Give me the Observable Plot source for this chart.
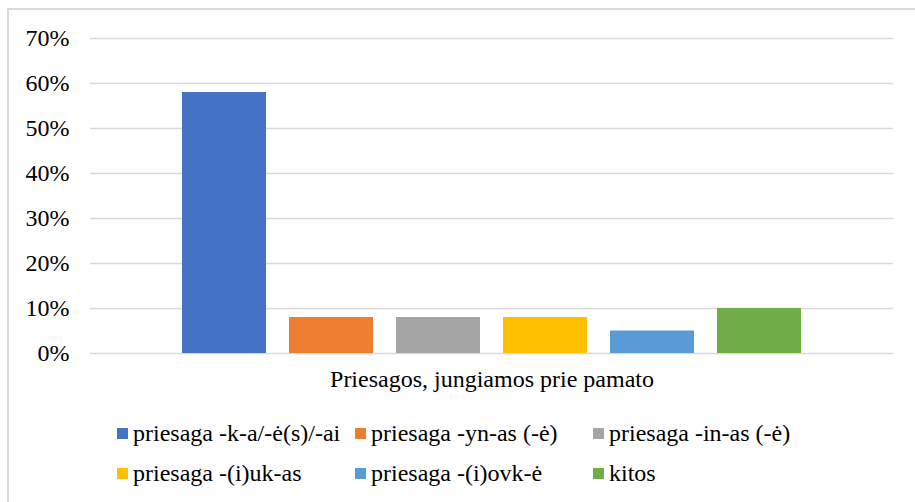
<!DOCTYPE html>
<html>
<head>
<meta charset="utf-8">
<script src="https://cdn.jsdelivr.net/npm/d3@7"></script>
<script src="https://cdn.jsdelivr.net/npm/@observablehq/plot@0.6"></script>
<style>
  html, body { margin: 0; padding: 0; background: #fff; overflow: hidden; }
  body { width: 915px; height: 502px; position: relative; font-family: 'Liberation Serif' !important; }
  #frame { position: absolute; left: 7px; top: 8px; width: 960px; height: 560px; border-left: 2px solid #d9d9d9; border-top: 2px solid #d9d9d9; box-sizing: border-box; }
  #chart { position: absolute; left: 0; top: 0; }
  #legend { position: absolute; left: 117px; top: 413px; display: grid; grid-template-columns: 238px 238px 238px; font-size: 24px; line-height: 40px; color: #000; }
  .item { display: flex; align-items: center; white-space: nowrap; }
  .sw { width: 11px; height: 11px; margin-right: 5px; flex: none; }
</style>
</head>
<body>
<div id="frame"></div>
<div id="chart"></div>
<div id="legend"></div>
<script>
const categories = [
  "priesaga -k-a/-ė(s)/-ai",
  "priesaga -yn-as (-ė)",
  "priesaga -in-as (-ė)",
  "priesaga -(i)uk-as",
  "priesaga -(i)ovk-ė",
  "kitos"
];
const values = [0.58, 0.08, 0.08, 0.08, 0.05, 0.10];
const colors = ["#4472C4", "#ED7D31", "#A5A5A5", "#FFC000", "#5B9BD5", "#70AD47"];
const yTicks = [0, 0.1, 0.2, 0.3, 0.4, 0.5, 0.6, 0.7];
const xLabel = "Priesagos, jungiamos prie pamato";

const FONT = "'Liberation Serif'";
const data = categories.map((c, i) => ({category: c, value: values[i]}));

const plot = Plot.plot({
  width: 915,
  height: 400,
  marginLeft: 90,
  marginRight: 22,
  marginTop: 38,
  marginBottom: 47,
  style: {fontFamily: FONT, fontSize: "24px", color: "#000", background: "transparent"},
  x: {domain: categories, paddingInner: 0.2135, paddingOuter: 0.85, axis: null},
  y: {domain: [0, 0.7]},
  color: {domain: categories, range: colors},
  marks: [
    Plot.gridY(yTicks, {stroke: "#d9d9d9", strokeOpacity: 1, strokeWidth: 1.5}),
    Plot.axisY(yTicks, {tickFormat: d3.format(".0%"), tickSize: 0, tickPadding: 21, label: null, fontSize: 24, fill: "#000"}),
    Plot.barY(data, {x: "category", y: "value", fill: "category"}),
    Plot.text([xLabel], {frameAnchor: "bottom", lineAnchor: "middle", dy: 26, fontSize: 24, fill: "#000", text: d => d})
  ]
});
document.getElementById("chart").appendChild(plot);

const legend = document.getElementById("legend");
categories.forEach((c, i) => {
  const item = document.createElement("div");
  item.className = "item";
  const sw = document.createElement("span");
  sw.className = "sw";
  sw.style.background = colors[i];
  const label = document.createElement("span");
  label.textContent = c;
  item.appendChild(sw);
  item.appendChild(label);
  legend.appendChild(item);
});

function forceFont() {
  document.querySelectorAll("body, body *").forEach(el => {
    el.style.setProperty("font-family", FONT, "important");
  });
}
forceFont();
setTimeout(forceFont, 0);
</script>
</body>
</html>
